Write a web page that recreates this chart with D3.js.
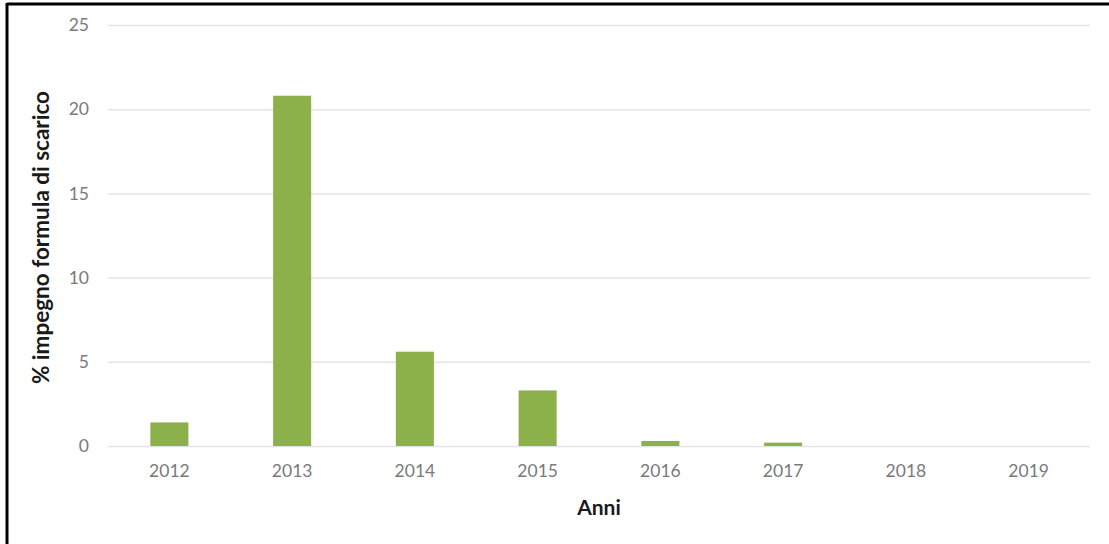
<!DOCTYPE html>
<html>
<head>
<meta charset="utf-8">
<script src="https://cdn.jsdelivr.net/npm/d3@7"></script>
<style>
  html, body { margin: 0; padding: 0; background: #fff; }
  svg { display: block; }
</style>
</head>
<body>
<svg id="chart" width="1109" height="544"></svg>
<script>
// Annual share of the discharge-formula commitment (%)
const years = ["2012", "2013", "2014", "2015", "2016", "2017", "2018", "2019"];
const values = [1.4, 20.8, 5.6, 3.3, 0.3, 0.2, 0, 0];
const yTicks = [0, 5, 10, 15, 20, 25];

const W = 1109, H = 544;
const margin = { left: 108, right: 19, top: 25, bottom: 98 };
const svg = d3.select("#chart");

// Frame lines along the top and left edges
svg.append("line").attr("x1", 7).attr("x2", W).attr("y1", 4).attr("y2", 4)
  .attr("stroke", "#000").attr("stroke-width", 3);
svg.append("line").attr("x1", 7).attr("x2", 7).attr("y1", 3).attr("y2", H)
  .attr("stroke", "#000").attr("stroke-width", 3);

const x = d3.scaleBand().domain(years)
  .range([margin.left, W - margin.right])
  .paddingInner(0.69).paddingOuter(0.345);
const y = d3.scaleLinear().domain([0, 25]).range([H - margin.bottom, margin.top]);

const font = "Lato, 'Open Sans', 'Liberation Sans', sans-serif";

// Horizontal gridlines + y tick labels
const yAxis = d3.axisLeft(y).tickValues(yTicks)
  .tickSize(-(W - margin.left - margin.right)).tickPadding(19);
const gy = svg.append("g").attr("transform", `translate(${margin.left},0)`).call(yAxis);
gy.select(".domain").remove();
gy.selectAll(".tick line").attr("stroke", "#e4e4e4").attr("stroke-width", 1.5);
gy.selectAll(".tick text").attr("fill", "#7a7a7a").style("font-family", font).style("font-size", "17.5px");

// Bars
svg.append("g").selectAll("rect").data(years).join("rect")
  .attr("x", d => x(d))
  .attr("width", x.bandwidth())
  .attr("y", (d, i) => y(values[i]))
  .attr("height", (d, i) => y(0) - y(values[i]))
  .attr("fill", "#8db14a");

// X axis labels
const xAxis = d3.axisBottom(x).tickSize(0).tickPadding(19);
const gx = svg.append("g").attr("transform", `translate(0,${y(0)})`).call(xAxis);
gx.select(".domain").remove();
gx.selectAll(".tick text").attr("fill", "#7a7a7a").style("font-family", font).style("font-size", "17.5px");

// Axis titles
svg.append("text")
  .attr("x", (margin.left + W - margin.right) / 2)
  .attr("y", 515)
  .attr("text-anchor", "middle")
  .style("font-family", font).style("font-weight", "bold").style("font-size", "21px")
  .attr("fill", "#1a1a1a")
  .text("Anni");

svg.append("text")
  .attr("transform", `translate(49,${(y(0) + y(25)) / 2 + 2}) rotate(-90)`)
  .attr("text-anchor", "middle")
  .style("font-family", font).style("font-weight", "bold").style("font-size", "22.5px")
  .attr("fill", "#1a1a1a")
  .text("% impegno formula di scarico");
</script>
</body>
</html>
